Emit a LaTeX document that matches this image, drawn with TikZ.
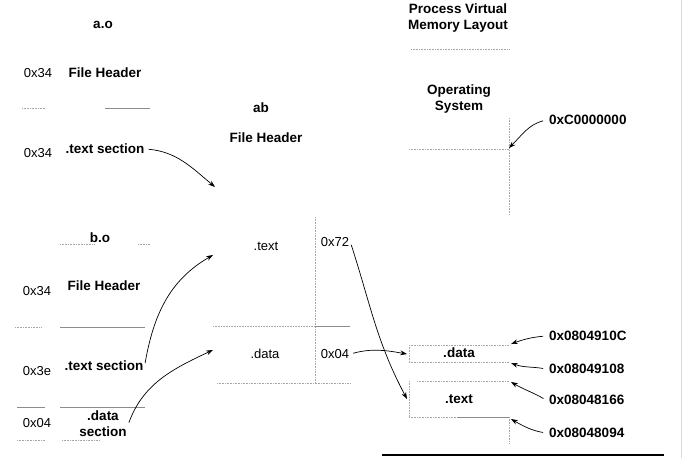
\documentclass[tikz,border=0pt]{standalone}
\usepackage{fontspec}
\setmainfont{Liberation Sans}
\usetikzlibrary{positioning, arrows.meta}

\begin{document}
\begin{tikzpicture}[
        x=1pt, y=-1pt,
        every node/.style={
            font=\fontsize{13}{16}\selectfont,
            align=center,
            inner sep=1pt
        },
        boldlbl/.style={
            font=\fontsize{13.5}{16}\selectfont\bfseries
        },
        hexoff/.style={
            font=\fontsize{13}{16}\selectfont
        },
        vaddr/.style={
            font=\fontsize{13.5}{16}\selectfont\bfseries,
            anchor=west,
            inner sep=3pt
        },
        faint/.style={
            draw=black!35,
            densely dotted,
            line width=0.6pt
        },
        rule/.style={
            draw=black!45,
            line width=0.6pt
        },
        arrow/.style={
            -{Stealth[length=2.4mm, width=1.7mm]},
            line width=0.7pt,
            shorten <=3pt
        }
    ]

    \useasboundingbox (0,0) rectangle (683,458);

    % a.o

    \node[boldlbl] (ao) at (103,25) {a.o};
    \node[hexoff] (aohdroff) at (38,73) {0x34};
    \node[boldlbl] (aohdr) at (105,73) {File Header};
    \node[hexoff] (aotextoff) at (38,153) {0x34};
    \node[boldlbl] (aotext) at (105,149) {.text section};

    \draw[faint] (22,108) -- (46,108);
    \draw[rule] (105,108) -- (150,108);

    % b.o

    \node[boldlbl] (bo) at (100,238) {b.o};
    \node[hexoff] (bohdroff) at (37,291) {0x34};
    \node[boldlbl] (bohdr) at (104,286) {File Header};
    \node[hexoff] (botextoff) at (37,371) {0x3e};
    \node[boldlbl] (botext) at (104,366) {.text section};
    \node[hexoff] (bodataoff) at (37,423) {0x04};
    \node[boldlbl] (bodata) at (103,423.5) {.data\\section};

    \draw[faint] (60,244) -- (95,244);
    \draw[faint] (138,244) -- (150,244);
    \draw[faint] (15,327) -- (42,327);
    \draw[rule] (60,327) -- (145,327);
    \draw[rule] (17,407) -- (45,407);
    \draw[rule] (60,407) -- (145,407);
    \draw[faint] (17,440) -- (45,440);
    \draw[faint] (62,440) -- (100,440);

    % ab

    \node[boldlbl] (ab) at (261,108) {ab};
    \node[boldlbl] (abhdr) at (266,138) {File Header};
    \node (abtext) at (266,246) {.text};
    \node (abtextoff) at (335,242) {0x72};
    \node (abdata) at (265,354) {.data};
    \node (abdataoff) at (335,354) {0x04};

    \draw[faint] (315,217) -- (315,383);
    \draw[faint] (213,326) -- (315,326);
    \draw[rule] (315,326) -- (350,326);
    \draw[faint] (217,383) -- (350,383);

    \coordinate (abtop) at (215,187);
    \coordinate (abtextin) at (213,255);
    \coordinate (abdatain) at (213,350);

    % Process Virtual Memory Layout

    \node[boldlbl] (vm) at (458,18) {Process Virtual\\Memory Layout};
    \node[boldlbl] (os) at (459,99) {Operating\\System};
    \node[boldlbl] (vmdata) at (459,353) {.data};
    \node[boldlbl] (vmtext) at (459,399) {.text};

    \draw[faint] (411,49) -- (509,49);
    \draw[faint] (509,118) -- (509,215);
    \draw[faint] (409,149) -- (509,149);
    \draw[faint] (409,345) -- (509,345);
    \draw[faint] (409,345) -- (409,362);
    \draw[faint] (409,362) -- (509,362);
    \draw[faint] (417,381) -- (509,381);
    \draw[faint] (409,381) -- (409,417);
    \draw[faint] (409,417) -- (457,417);
    \draw[rule] (457,417) -- (509,417);
    \draw[faint] (509,417) -- (509,443);

    \coordinate (oslow) at (509,148);
    \coordinate (datatop) at (511,344);
    \coordinate (databot) at (511,363);
    \coordinate (texttop) at (511,382);
    \coordinate (textbot) at (511,419);
    \coordinate (vmdatain) at (407,354);
    \coordinate (vmtextin) at (407,399);

    \node[vaddr] (kbase) at (546,120) {0xC0000000};
    \node[vaddr] (dataend) at (546,336) {0x0804910C};
    \node[vaddr] (datastart) at (546,369) {0x08049108};
    \node[vaddr] (textend) at (546,400) {0x08048166};
    \node[vaddr] (textstart) at (546,433) {0x08048094};

    % Flechas de enlace

    \draw[arrow] (aotext.east) to[out=-5, in=140] (abtop);
    \draw[arrow] (botext.east) to[out=80, in=-150] (abtextin);
    \draw[arrow] ([yshift=-2pt]bodata.east) to[out=70, in=-155] (abdatain);

    \draw[arrow] (abtextoff.east) to[out=-72, in=118] (vmtextin);
    \draw[arrow] (abdataoff.east) to[out=15, in=170] (vmdatain);

    % Direcciones virtuales

    \draw[arrow] (kbase.west) to[out=195, in=45] (oslow);
    \draw[arrow] (dataend.west) to[out=185, in=20] (datatop);
    \draw[arrow] (datastart.west) to[out=170, in=-20] (databot);
    \draw[arrow] (textend.west) to[out=150, in=-30] (texttop);
    \draw[arrow] (textstart.west) to[out=170, in=-30] (textbot);

    % Borde

    \draw[line width=1.6pt] (382,455) -- (664,455);
    \draw[black!15, line width=0.8pt] (681,0) -- (681,458);

\end{tikzpicture}
\end{document}
